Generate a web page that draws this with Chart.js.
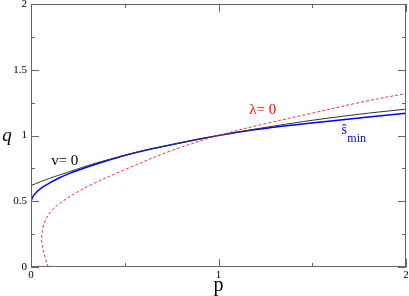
<!DOCTYPE html>
<html>
<head>
<meta charset="utf-8">
<script src="https://cdn.jsdelivr.net/npm/chart.js@4"></script>
<style>
  html, body { margin: 0; padding: 0; background: #fff; }
  #wrap { width: 409px; height: 296px; }
</style>
</head>
<body>
<div id="wrap"><canvas id="lineChart"></canvas></div>
<script>
// curve v=0 (black)
const pV = [0, 0.1, 0.2, 0.3, 0.4, 0.5, 0.6, 0.8, 1.0, 1.2, 1.4, 1.6, 1.8, 2.0];
const qV = [0.62, 0.675, 0.722, 0.77, 0.812, 0.85, 0.885, 0.945, 1.0, 1.05, 1.095, 1.135, 1.17, 1.20];

// curve s_min (blue)
const pS = [0, 0.01, 0.03, 0.06, 0.1, 0.15, 0.2, 0.3, 0.4, 0.5, 0.6, 0.8, 1.0, 1.2, 1.4, 1.6, 1.8, 2.0];
const qS = [0.5, 0.535, 0.57, 0.605, 0.64, 0.677, 0.708, 0.76, 0.806, 0.848, 0.884, 0.945, 1.0, 1.045, 1.08, 1.11, 1.14, 1.17];

// curve lambda=0 (red dashed), goes back on itself near p=0
const pL = [0.092, 0.074, 0.062, 0.057, 0.06, 0.07, 0.09, 0.125, 0.17, 0.23, 0.32, 0.5, 0.75, 1.0, 1.25, 1.5, 1.75, 2.0];
const qL = [0, 0.08, 0.15, 0.21, 0.27, 0.33, 0.39, 0.45, 0.5, 0.555, 0.625, 0.74, 0.885, 1.0, 1.09, 1.17, 1.25, 1.32];

const xTicks = [0, 1, 2];
const yTicks = [0, 0.5, 1, 1.5, 2];

function pts(xs, ys) {
    return xs.map((x, i) => ({x: x, y: ys[i]}));
}

// ticks pointing inward on all four sides, box, and the text labels
const framePlugin = {
    id: 'frame',
    afterDraw(chart) {
        const ctx = chart.ctx;
        const a = chart.chartArea;
        const xs = chart.scales.x, ys = chart.scales.y;
        ctx.save();
        ctx.strokeStyle = '#666';
        ctx.lineWidth = 1;
        ctx.strokeRect(a.left + 0.5, a.top + 0.5, a.right - a.left - 1, a.bottom - a.top - 1);
        ctx.beginPath();
        for (let v = 0; v <= 2.0001; v += 0.5) {
            const len = (Math.abs(v - Math.round(v)) < 1e-6) ? 8 : 4;
            const px = Math.round(xs.getPixelForValue(v)) + 0.5;
            ctx.moveTo(px, a.bottom); ctx.lineTo(px, a.bottom - len);
            ctx.moveTo(px, a.top); ctx.lineTo(px, a.top + len);
        }
        for (let v = 0; v <= 2.0001; v += 0.25) {
            const len = (Math.abs(v * 2 - Math.round(v * 2)) < 1e-6) ? 8 : 4;
            const py = Math.round(ys.getPixelForValue(v)) + 0.5;
            ctx.moveTo(a.left, py); ctx.lineTo(a.left + len, py);
            ctx.moveTo(a.right, py); ctx.lineTo(a.right - len, py);
        }
        ctx.stroke();

        ctx.textBaseline = 'middle';
        ctx.textAlign = 'center';
        ctx.fillStyle = '#000';
        ctx.font = 'italic 19px "Liberation Serif"';
        ctx.fillText('q', 7, ys.getPixelForValue(1.0));
        ctx.font = '20px "Liberation Serif"';
        ctx.fillText('p', xs.getPixelForValue(1.0), 286);

        ctx.font = '15px "Liberation Serif"';
        ctx.fillText('v= 0', xs.getPixelForValue(0.18), ys.getPixelForValue(0.805));
        ctx.fillStyle = '#ff0000';
        ctx.fillText('λ= 0', xs.getPixelForValue(1.236), ys.getPixelForValue(1.19));
        ctx.fillStyle = '#0000ff';
        ctx.font = '14px "Liberation Serif"';
        ctx.fillText('ŝ', xs.getPixelForValue(1.671), ys.getPixelForValue(1.04));
        ctx.font = '12px "Liberation Serif"';
        ctx.textAlign = 'left';
        ctx.fillText('min', xs.getPixelForValue(1.687), ys.getPixelForValue(0.972));
        ctx.restore();
    }
};

const config = {
    type: 'scatter',
    data: {
        datasets: [
            {
                label: 'lambda',
                data: pts(pL, qL),
                showLine: true,
                borderColor: '#ff3030',
                borderWidth: 1,
                borderDash: [3, 2],
                pointRadius: 0,
                tension: 0.35
            },
            {
                label: 'v',
                data: pts(pV, qV),
                showLine: true,
                borderColor: '#333',
                borderWidth: 1,
                pointRadius: 0,
                tension: 0.3
            },
            {
                label: 'smin',
                data: pts(pS, qS),
                showLine: true,
                borderColor: '#0000ff',
                borderWidth: 1.5,
                pointRadius: 0,
                cubicInterpolationMode: 'monotone'
            }
        ]
    },
    options: {
        responsive: true,
        maintainAspectRatio: false,
        animation: false,
        layout: { padding: { top: 4, right: 3, left: 0, bottom: 0 } },
        plugins: {
            legend: { display: false },
            tooltip: { enabled: false }
        },
        scales: {
            x: {
                type: 'linear',
                min: 0, max: 2,
                afterBuildTicks: s => { s.ticks = xTicks.map(v => ({value: v})); },
                afterFit: s => {
                    s.height = 29;
                    s.paddingLeft = 0; s.paddingRight = 0;
                },
                grid: { display: false, drawTicks: false },
                border: { display: false },
                ticks: {
                    padding: 2,
                    color: '#000',
                    font: { family: 'Liberation Serif', size: 11 },
                    maxRotation: 0,
                    callback: v => String(v)
                }
            },
            y: {
                type: 'linear',
                min: 0, max: 2,
                afterBuildTicks: s => { s.ticks = yTicks.map(v => ({value: v})); },
                afterFit: s => {
                    s.width = 31;
                    s.paddingTop = 0; s.paddingBottom = 0;
                },
                grid: { display: false, drawTicks: false },
                border: { display: false },
                ticks: {
                    padding: 4,
                    color: '#000',
                    font: { family: 'Liberation Serif', size: 11 },
                    callback: v => String(v)
                }
            }
        }
    },
    plugins: [framePlugin]
};

const myChart = new Chart(document.getElementById('lineChart').getContext('2d'), config);
</script>
</body>
</html>
